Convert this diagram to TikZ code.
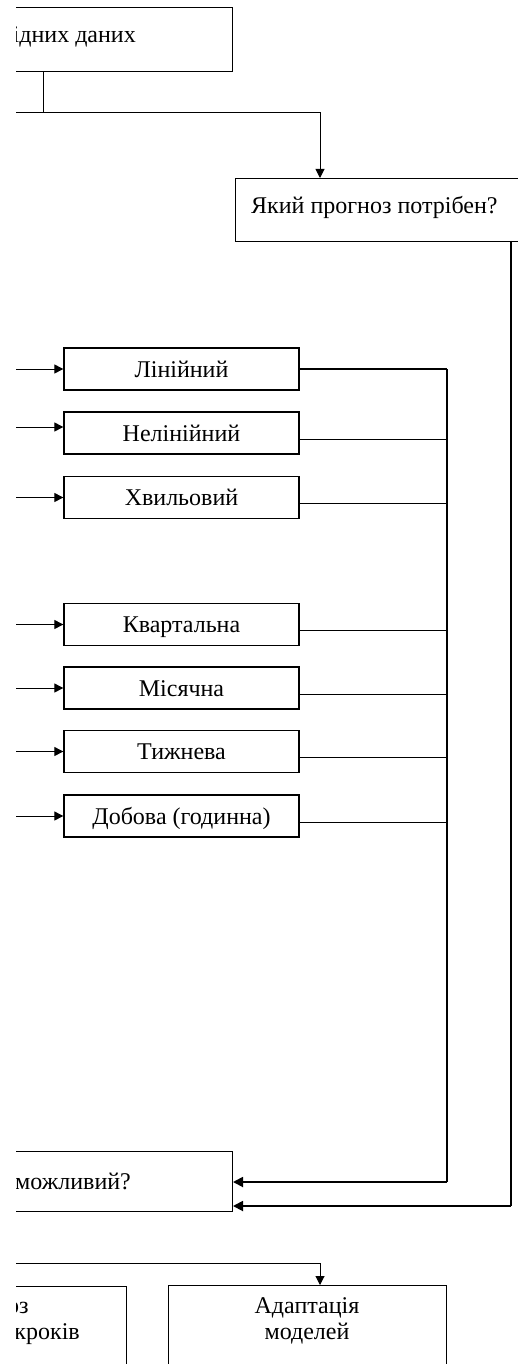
\documentclass[tikz,border=0pt]{standalone}
\usepackage{fontspec}
\setmainfont{Liberation Serif}
\usetikzlibrary{arrows.meta}
\newcommand\dfsz{\fontsize{24}{26}\selectfont}
\begin{document}
\begin{tikzpicture}[x=1pt,y=-1pt,
  box/.style={draw, line width=1.3pt, inner sep=0pt},
  mbox/.style={box, minimum width=235pt, minimum height=42pt, font=\dfsz, text height=16pt, text depth=0pt},
  txt/.style={inner sep=0pt, font=\dfsz},
  ln/.style={line width=1pt},
  thk/.style={line width=1.8pt},
  arr/.style={line width=1pt, -{Triangle[length=9pt,width=9pt]}},
  tarr/.style={line width=1.8pt, -{Triangle[length=10pt,width=10pt]}}
]
\useasboundingbox (0,0) rectangle (518,1364);
\clip (16,0) rectangle (518,1364);

% top source box
\node[box, minimum width=262pt, minimum height=64pt, anchor=north west] (src) at (-30,7) {};
\node[txt, anchor=base east] (srct) at (136,43) {ідних даних};
\coordinate (j1) at (43,113);
\coordinate (l1) at (-10,113);
\coordinate (k1) at (320,113);

% question box
\node[box, minimum width=305pt, minimum height=63pt, anchor=north west] (q) at (235,178) {};
\node[txt, anchor=base west] (qt) at (251,214) {Який прогноз потрібен?};
\coordinate (qin) at (320,178);

\draw[ln] (src.south -| j1) -- (j1);
\draw[arr] (l1) -- (k1) -- (qin);

% model boxes
\node[mbox] (lin) at (181.5,369) {Лінійний};
\node[mbox] (nel) at (181.5,433) {Нелінійний};
\node[mbox] (hvy) at (181.5,497.5) {Хвильовий};
\node[mbox] (kv) at (181.5,624.5) {Квартальна};
\node[mbox] (mis) at (181.5,688) {Місячна};
\node[mbox] (tyz) at (181.5,751.5) {Тижнева};
\node[mbox] (dob) at (181.5,816) {Добова (годинна)};

% input arrows from the left
\draw[arr] ([xshift=-80pt]lin.west) -- (lin.west);
\draw[arr] ([xshift=-80pt,yshift=6pt]nel.west) -- ([yshift=6pt]nel.west);
\foreach \n in {hvy,kv,mis,tyz,dob}
  \draw[arr] ([xshift=-80pt]\n.west) -- (\n.west);

% possibility box
\node[box, minimum width=263pt, minimum height=60pt, anchor=south east] (poss) at (233,1212) {};
\node[txt, anchor=base west] (posst) at (15,1189) {можливий?};

% bus
\coordinate (bt) at (447,369);
\coordinate (bb) at (447,1182);
\draw[thk] (lin.east) -- (bt);
\foreach \n in {nel,kv,mis,tyz,dob}
  \draw[ln] ([yshift=-6pt]\n.east) -- ([yshift=-6pt]\n.east -| bt);
\draw[ln] ([yshift=-5.5pt]hvy.east) -- ([yshift=-5.5pt]hvy.east -| bt);
\draw[thk] (bt) -- (bb);
\draw[tarr] (bb) -- (poss.east |- bb);

% right return line
\coordinate (rt) at (511,241);
\coordinate (rb) at (511,1206);
\draw[thk] (rt) -- (rb);
\draw[tarr] (rb) -- (poss.east |- rb);

% bottom row
\coordinate (l2) at (-10,1263);
\coordinate (k2) at (320,1263);
\node[box, minimum width=278pt, minimum height=140pt, anchor=north west] (ad) at (168,1285) {};
\coordinate (adin) at (320,1285);
\draw[arr] (l2) -- (k2) -- (adin);
\node[txt, align=center] (adt) at (307,1321) {Адаптація\\моделей};

\node[box, minimum width=157pt, minimum height=140pt, anchor=north east] (pk) at (127,1286) {};
\node[txt, anchor=base west] (pkt1) at (7,1313) {оз};
\node[txt, anchor=base east] (pkt2) at (80,1339) {кроків};
\end{tikzpicture}
\end{document}
